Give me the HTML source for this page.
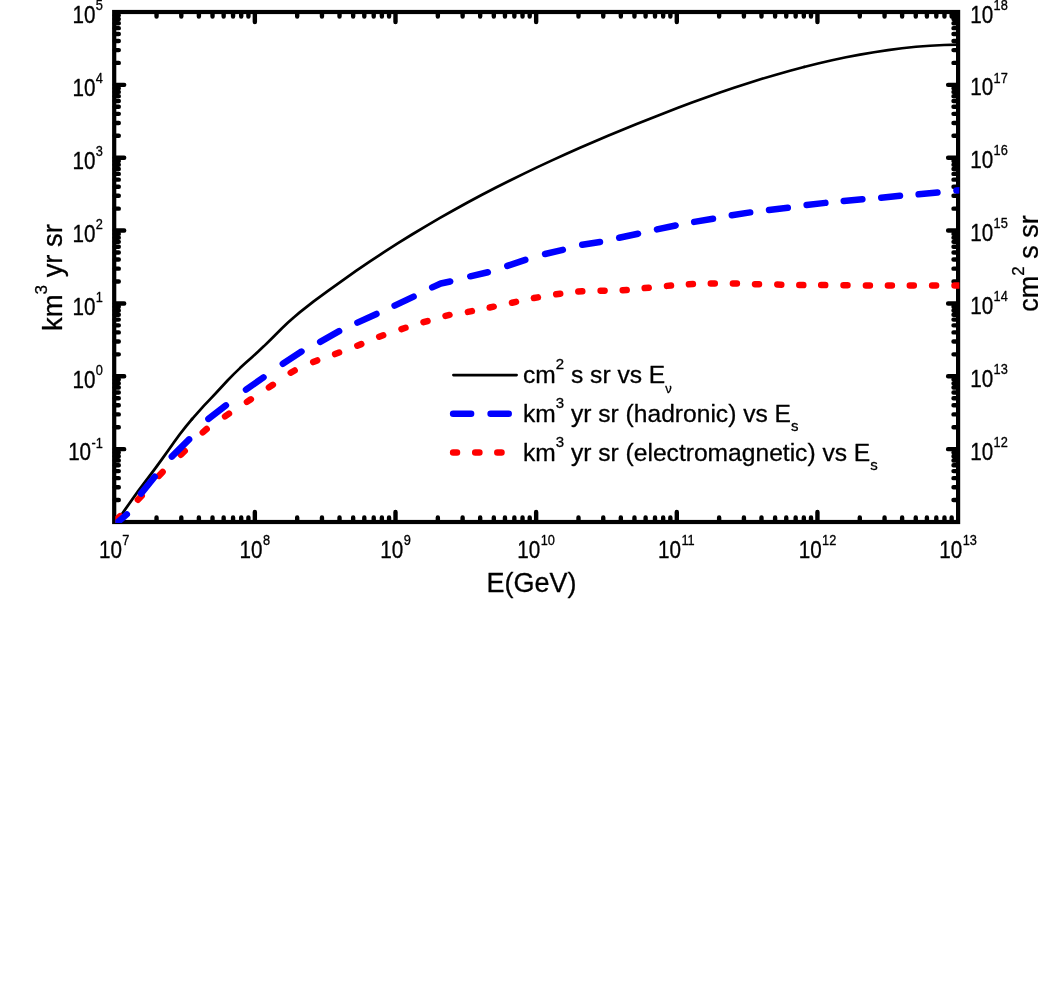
<!DOCTYPE html>
<html><head><meta charset="utf-8"><title>chart</title><style>html,body{margin:0;padding:0;background:#fff}svg{display:block;will-change:transform}</style></head><body>
<svg width="1038" height="1006" viewBox="0 0 1038 1006">
<rect width="1038" height="1006" fill="#fff"/>
<path d="M254.85 521.5v-9.5M254.85 12.5v9.5M395.5 521.5v-9.5M395.5 12.5v9.5M536.15 521.5v-9.5M536.15 12.5v9.5M676.8 521.5v-9.5M676.8 12.5v9.5M817.45 521.5v-9.5M817.45 12.5v9.5M114.7 449.14h9.5M957.6 449.14h-9.5M114.7 376.29h9.5M957.6 376.29h-9.5M114.7 303.43h9.5M957.6 303.43h-9.5M114.7 230.57h9.5M957.6 230.57h-9.5M114.7 157.71h9.5M957.6 157.71h-9.5M114.7 84.86h9.5M957.6 84.86h-9.5M156.54 521.5v-4.1M156.54 12.5v4.1M181.31 521.5v-4.1M181.31 12.5v4.1M198.88 521.5v-4.1M198.88 12.5v4.1M212.51 521.5v-4.1M212.51 12.5v4.1M223.65 521.5v-4.1M223.65 12.5v4.1M233.06 521.5v-4.1M233.06 12.5v4.1M241.22 521.5v-4.1M241.22 12.5v4.1M248.41 521.5v-4.1M248.41 12.5v4.1M297.19 521.5v-4.1M297.19 12.5v4.1M321.96 521.5v-4.1M321.96 12.5v4.1M339.53 521.5v-4.1M339.53 12.5v4.1M353.16 521.5v-4.1M353.16 12.5v4.1M364.3 521.5v-4.1M364.3 12.5v4.1M373.71 521.5v-4.1M373.71 12.5v4.1M381.87 521.5v-4.1M381.87 12.5v4.1M389.06 521.5v-4.1M389.06 12.5v4.1M437.84 521.5v-4.1M437.84 12.5v4.1M462.61 521.5v-4.1M462.61 12.5v4.1M480.18 521.5v-4.1M480.18 12.5v4.1M493.81 521.5v-4.1M493.81 12.5v4.1M504.95 521.5v-4.1M504.95 12.5v4.1M514.36 521.5v-4.1M514.36 12.5v4.1M522.52 521.5v-4.1M522.52 12.5v4.1M529.71 521.5v-4.1M529.71 12.5v4.1M578.49 521.5v-4.1M578.49 12.5v4.1M603.26 521.5v-4.1M603.26 12.5v4.1M620.83 521.5v-4.1M620.83 12.5v4.1M634.46 521.5v-4.1M634.46 12.5v4.1M645.6 521.5v-4.1M645.6 12.5v4.1M655.01 521.5v-4.1M655.01 12.5v4.1M663.17 521.5v-4.1M663.17 12.5v4.1M670.36 521.5v-4.1M670.36 12.5v4.1M719.14 521.5v-4.1M719.14 12.5v4.1M743.91 521.5v-4.1M743.91 12.5v4.1M761.48 521.5v-4.1M761.48 12.5v4.1M775.11 521.5v-4.1M775.11 12.5v4.1M786.25 521.5v-4.1M786.25 12.5v4.1M795.66 521.5v-4.1M795.66 12.5v4.1M803.82 521.5v-4.1M803.82 12.5v4.1M811.01 521.5v-4.1M811.01 12.5v4.1M859.79 521.5v-4.1M859.79 12.5v4.1M884.56 521.5v-4.1M884.56 12.5v4.1M902.13 521.5v-4.1M902.13 12.5v4.1M915.76 521.5v-4.1M915.76 12.5v4.1M926.9 521.5v-4.1M926.9 12.5v4.1M936.31 521.5v-4.1M936.31 12.5v4.1M944.47 521.5v-4.1M944.47 12.5v4.1M951.66 521.5v-4.1M951.66 12.5v4.1M114.7 500.07h4.1M957.6 500.07h-4.1M114.7 487.24h4.1M957.6 487.24h-4.1M114.7 478.14h4.1M957.6 478.14h-4.1M114.7 471.08h4.1M957.6 471.08h-4.1M114.7 465.31h4.1M957.6 465.31h-4.1M114.7 460.43h4.1M957.6 460.43h-4.1M114.7 456.2h4.1M957.6 456.2h-4.1M114.7 452.48h4.1M957.6 452.48h-4.1M114.7 427.21h4.1M957.6 427.21h-4.1M114.7 414.38h4.1M957.6 414.38h-4.1M114.7 405.28h4.1M957.6 405.28h-4.1M114.7 398.22h4.1M957.6 398.22h-4.1M114.7 392.45h4.1M957.6 392.45h-4.1M114.7 387.57h4.1M957.6 387.57h-4.1M114.7 383.35h4.1M957.6 383.35h-4.1M114.7 379.62h4.1M957.6 379.62h-4.1M114.7 354.35h4.1M957.6 354.35h-4.1M114.7 341.52h4.1M957.6 341.52h-4.1M114.7 332.42h4.1M957.6 332.42h-4.1M114.7 325.36h4.1M957.6 325.36h-4.1M114.7 319.59h4.1M957.6 319.59h-4.1M114.7 314.71h4.1M957.6 314.71h-4.1M114.7 310.49h4.1M957.6 310.49h-4.1M114.7 306.76h4.1M957.6 306.76h-4.1M114.7 281.5h4.1M957.6 281.5h-4.1M114.7 268.67h4.1M957.6 268.67h-4.1M114.7 259.56h4.1M957.6 259.56h-4.1M114.7 252.5h4.1M957.6 252.5h-4.1M114.7 246.73h4.1M957.6 246.73h-4.1M114.7 241.86h4.1M957.6 241.86h-4.1M114.7 237.63h4.1M957.6 237.63h-4.1M114.7 233.91h4.1M957.6 233.91h-4.1M114.7 208.64h4.1M957.6 208.64h-4.1M114.7 195.81h4.1M957.6 195.81h-4.1M114.7 186.71h4.1M957.6 186.71h-4.1M114.7 179.65h4.1M957.6 179.65h-4.1M114.7 173.88h4.1M957.6 173.88h-4.1M114.7 169h4.1M957.6 169h-4.1M114.7 164.77h4.1M957.6 164.77h-4.1M114.7 161.05h4.1M957.6 161.05h-4.1M114.7 135.78h4.1M957.6 135.78h-4.1M114.7 122.95h4.1M957.6 122.95h-4.1M114.7 113.85h4.1M957.6 113.85h-4.1M114.7 106.79h4.1M957.6 106.79h-4.1M114.7 101.02h4.1M957.6 101.02h-4.1M114.7 96.14h4.1M957.6 96.14h-4.1M114.7 91.92h4.1M957.6 91.92h-4.1M114.7 88.19h4.1M957.6 88.19h-4.1M114.7 62.92h4.1M957.6 62.92h-4.1M114.7 50.1h4.1M957.6 50.1h-4.1M114.7 40.99h4.1M957.6 40.99h-4.1M114.7 33.93h4.1M957.6 33.93h-4.1M114.7 28.16h4.1M957.6 28.16h-4.1M114.7 23.29h4.1M957.6 23.29h-4.1M114.7 19.06h4.1M957.6 19.06h-4.1M114.7 15.33h4.1M957.6 15.33h-4.1" stroke="#000" stroke-width="4.4" stroke-linecap="round" fill="none"/>
<rect x="114.2" y="12" width="843.9" height="510" fill="none" stroke="#000" stroke-width="4.2"/>
<clipPath id="c"><rect x="115.3" y="0" width="844.1" height="523"/></clipPath>
<g clip-path="url(#c)" fill="none" stroke-linecap="round" stroke-linejoin="round">
<polyline points="114.2,522.6 116.4,522.3" stroke="#000" stroke-width="2.6"/>
<polyline points="116.4,522.3 120,517 126,508.2 132,499.7 138,491.4 144,483.3 150,475.4 156,467.4 162,459.2 168,450.7 174,442.2 180,434 186,426.3 192,419.1" stroke="#000" stroke-width="2.8"/>
<polyline points="192,419.1 198,412.3 204,405.7 210,399.3 216,393 222,386.5 228,380 234,373.9 240,368.1 246,362.6 252,357.2 258,351.7 264,346.1 270,340.2 276,334.3 282,328.3 288,322.6 294,317.2 300,312.1 314,301.1 328,290.9 342,280.8 356,270.9 370,261.4 384,252.2 398,243.2 412,234.5 426,226.1 440,217.9 454,210 468,202.3 482,194.8 496,187.5 510,180.5 524,173.6 538,166.9 552,160.4 566,154 580,147.8 594,141.7 608,135.8 622,130 636,124.3 650,118.7 664,113.2 678,107.8 692,102.6 706,97.5 720,92.6 734,87.8 748,83.2 762,78.8 776,74.7 790,70.7 804,67" stroke="#000" stroke-width="2.7"/>
<polyline points="804,67 818,63.5 832,60.2 846,57.3 860,54.6 874,52.2 888,50.1 902,48.3 916,46.8 930,45.7 944,45 958.1,44.6" stroke="#000" stroke-width="2.6"/>
<path d="M116.27 519.69L120.13 516.11M137.89 499.78L141.71 495.82M158.79 475.9L162.61 471.9M180.88 454.68L184.72 450.92M202.76 432.36L206.64 429.04M225.04 416.33L228.96 413.67M246.94 401.89L250.86 399.31M268.94 387.4L272.86 384.8M290.73 372.71L294.67 370.49M313.22 362.02L317.18 360.38M335.11 354.03L339.09 352.57M357.31 345.68L361.29 344.12M379.21 336.74L383.19 335.26M401.51 329.05L405.49 327.75M423.51 322.19L427.49 321.01M445.5 315.85L449.5 314.95M467.9 311.87L471.9 311.13M489.7 307.52L493.7 306.68M512 302.72L516 301.88M533.9 298.07L537.9 297.33M556.2 294.28L560.2 293.72M578.3 291.55L582.3 291.25M600.6 290.76L604.6 290.64M622.7 290.23L626.7 289.97M644.7 288.1L648.7 287.7M667 285.87L671 285.53M688.9 284.3L692.9 284.1M710.8 283.53L714.8 283.47M732.9 283.47L736.9 283.53M755 284.15L759 284.25M777.3 284.56L781.3 284.64M799.3 285.08L803.3 285.12M821.2 285.09L825.2 285.11M843.5 285.29L847.5 285.31M865.9 285.4L869.9 285.4M887.9 285.4L891.9 285.4M909.8 285.4L913.8 285.4M932.1 285.4L936.1 285.4M954.5 285.4L958.5 285.4" stroke="#ff0000" stroke-width="6.5"/>
<path d="M112 527.1L126.8 514.4M141 493.6L154.7 476.7M171.8 456.6L189.1 439.4M208.4 418.9L225.9 405.4M246 389.6L263.5 377.4M282.82 363.75L301.48 351.55M320.2 341.89L339.1 331.11M357.41 322.61L376.49 313.99M394.59 305.66L413.61 296.64M432.21 287.4L440.8 283.5L450.21 281.46M470.28 276.31L487.82 272.29M507.31 265.86L525.29 259.84M545.08 253.99L562.82 249.81M582.22 244.78L599.98 241.92M619.19 237.75L638.01 233.75M656.99 229.44L675.61 225.46M694.22 221.87L712.98 218.83M731.82 215.29L750.18 212.41M769.03 209.98L787.77 207.72M806.63 204.91L825.37 202.89M843.74 201.04L862.36 199.16M881.23 197.71L899.97 195.69M918.64 194.35L937.46 192.55M956.44 190.53L965 190" stroke="#0000ff" stroke-width="6.5"/>
</g>
<path d="M453.4 375.1H516.6" stroke="#000" stroke-width="2.7" stroke-linecap="round"/>
<path d="M453.1 413.8H471.1M490.6 413.8H508.7" stroke="#00f" stroke-width="6.5" stroke-linecap="round"/>
<path d="M453.1 452.5H457M475.2 452.5H479.4M497.3 452.5H501.5" stroke="#f00" stroke-width="6.5" stroke-linecap="round"/>
<g font-family="'Liberation Sans', sans-serif" fill="#000" stroke="#000" stroke-width="0.3" stroke-linejoin="round">
<text transform="translate(68.13 460.44) scale(0.94 1.06)" font-size="22">10</text><text transform="translate(91.53 447.54) scale(0.94 1.06)" font-size="13.6">-1</text>
<text transform="translate(72.39 387.59) scale(0.94 1.06)" font-size="22">10</text><text transform="translate(95.79 374.69) scale(0.94 1.06)" font-size="13.6">0</text>
<text transform="translate(72.39 314.73) scale(0.94 1.06)" font-size="22">10</text><text transform="translate(95.79 301.83) scale(0.94 1.06)" font-size="13.6">1</text>
<text transform="translate(72.39 241.87) scale(0.94 1.06)" font-size="22">10</text><text transform="translate(95.79 228.97) scale(0.94 1.06)" font-size="13.6">2</text>
<text transform="translate(72.39 169.01) scale(0.94 1.06)" font-size="22">10</text><text transform="translate(95.79 156.11) scale(0.94 1.06)" font-size="13.6">3</text>
<text transform="translate(72.39 96.16) scale(0.94 1.06)" font-size="22">10</text><text transform="translate(95.79 83.26) scale(0.94 1.06)" font-size="13.6">4</text>
<text transform="translate(72.39 23.3) scale(0.94 1.06)" font-size="22">10</text><text transform="translate(95.79 10.4) scale(0.94 1.06)" font-size="13.6">5</text>
<text transform="translate(970.2 459.64) scale(0.94 1.06)" font-size="22">10</text><text transform="translate(993.6 446.84) scale(0.94 1.06)" font-size="13.6">12</text>
<text transform="translate(970.2 386.79) scale(0.94 1.06)" font-size="22">10</text><text transform="translate(993.6 373.99) scale(0.94 1.06)" font-size="13.6">13</text>
<text transform="translate(970.2 313.93) scale(0.94 1.06)" font-size="22">10</text><text transform="translate(993.6 301.13) scale(0.94 1.06)" font-size="13.6">14</text>
<text transform="translate(970.2 241.07) scale(0.94 1.06)" font-size="22">10</text><text transform="translate(993.6 228.27) scale(0.94 1.06)" font-size="13.6">15</text>
<text transform="translate(970.2 168.21) scale(0.94 1.06)" font-size="22">10</text><text transform="translate(993.6 155.41) scale(0.94 1.06)" font-size="13.6">16</text>
<text transform="translate(970.2 95.36) scale(0.94 1.06)" font-size="22">10</text><text transform="translate(993.6 82.56) scale(0.94 1.06)" font-size="13.6">17</text>
<text transform="translate(970.2 22.5) scale(0.94 1.06)" font-size="22">10</text><text transform="translate(993.6 9.7) scale(0.94 1.06)" font-size="13.6">18</text>
<text transform="translate(98.94 558.4) scale(0.94 1.06)" font-size="22">10</text><text transform="translate(122.35 545.2) scale(0.94 1.06)" font-size="13.6">7</text>
<text transform="translate(239.59 558.4) scale(0.94 1.06)" font-size="22">10</text><text transform="translate(263 545.2) scale(0.94 1.06)" font-size="13.6">8</text>
<text transform="translate(380.24 558.4) scale(0.94 1.06)" font-size="22">10</text><text transform="translate(403.65 545.2) scale(0.94 1.06)" font-size="13.6">9</text>
<text transform="translate(517.34 558.4) scale(0.94 1.06)" font-size="22">10</text><text transform="translate(540.74 545.2) scale(0.94 1.06)" font-size="13.6">10</text>
<text transform="translate(657.99 558.4) scale(0.94 1.06)" font-size="22">10</text><text transform="translate(681.39 545.2) scale(0.94 1.06)" font-size="13.6">11</text>
<text transform="translate(798.64 558.4) scale(0.94 1.06)" font-size="22">10</text><text transform="translate(822.04 545.2) scale(0.94 1.06)" font-size="13.6">12</text>
<text transform="translate(939.29 558.4) scale(0.94 1.06)" font-size="22">10</text><text transform="translate(962.69 545.2) scale(0.94 1.06)" font-size="13.6">13</text>
<text transform="translate(531.6 592) scale(1 1)" text-anchor="middle" font-size="27">E(GeV)</text>
<text transform="translate(61.8 277.5) rotate(-90) scale(1 1)" text-anchor="middle" font-size="27.4">km<tspan dy="-15" font-size="17">3</tspan><tspan dy="15"> yr sr</tspan></text>
<text transform="translate(1038 263.5) rotate(-90) scale(1 1)" text-anchor="middle" font-size="27">cm<tspan dy="-14" font-size="17">2</tspan><tspan dy="14"> s sr</tspan></text>
<text transform="translate(523 383.4) scale(1 1)" font-size="24.6">cm<tspan dy="-14" font-size="15">2</tspan><tspan dy="14"> s sr vs E</tspan><tspan dy="9.2" font-size="13">ν</tspan></text>
<text transform="translate(523 422.2) scale(1 1)" font-size="24.6">km<tspan dy="-14" font-size="15">3</tspan><tspan dy="14"> yr sr (hadronic) vs E</tspan><tspan dy="9.2" font-size="15">s</tspan></text>
<text transform="translate(523 461) scale(1 1)" font-size="24.6">km<tspan dy="-14" font-size="15">3</tspan><tspan dy="14"> yr sr (electromagnetic) vs E</tspan><tspan dy="9.2" font-size="15">s</tspan></text>
</g>
</svg>
</body></html>
